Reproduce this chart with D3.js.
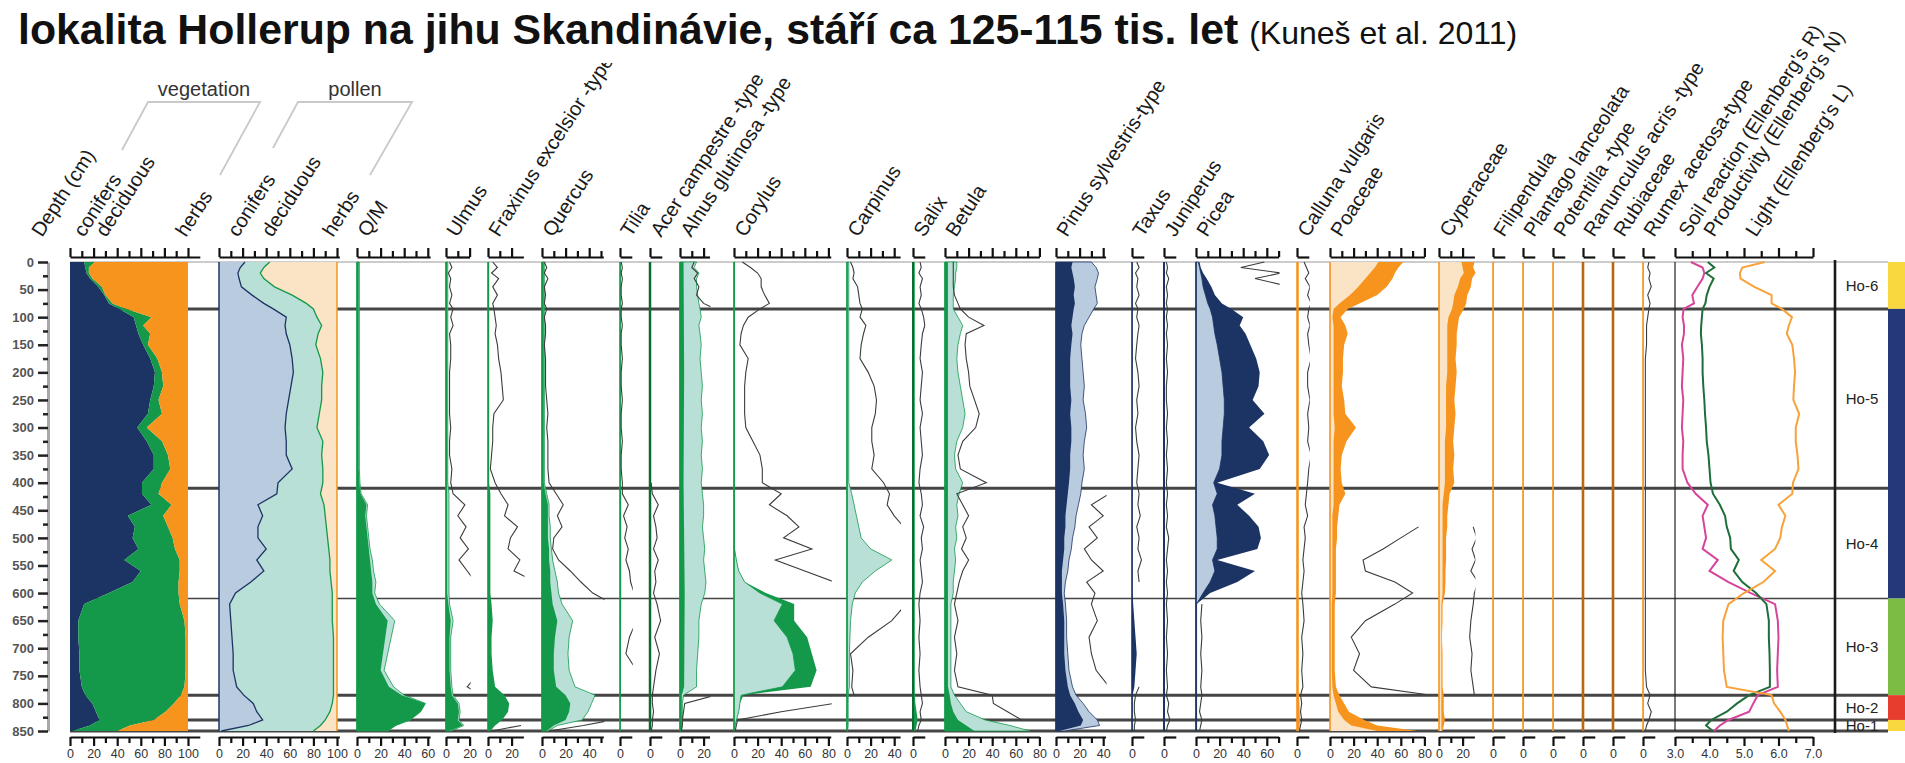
<!DOCTYPE html>
<html><head><meta charset="utf-8">
<script src="https://cdnjs.cloudflare.com/ajax/libs/d3/7.8.5/d3.min.js"></script>
<style>html,body{margin:0;padding:0;background:#fff;}svg{display:block;font-family:"Liberation Sans",Arial,Helvetica,sans-serif;}</style>
</head><body><svg id="chart" width="1905" height="763"></svg>
<script>
// ---------------- DATA ----------------
const depths=[0,10,20,30,45,60,75,85,100,115,130,150,175,200,225,250,275,300,325,350,375,400,420,440,460,480,500,520,540,560,580,600,620,650,680,710,740,770,785,800,815,830,840,850];
const depthTicks=[0,50,100,150,200,250,300,350,400,450,500,550,600,650,700,750,800,850];

// vegetation (%)
const vegConifers=[12,13,14,17,24,29,33,42,54,56,58,62,68,72,71,68,66,57,65,71,71,61,61,69,49,55,53,58,46,60,53,33,12,7,7,8,8,10,13,19,22,25,17,2];
const vegDeciduous=[9,3,2,2,3,1,3,6,15,6,10,4,6,6,8,7,12,8,13,12,14,17,14,17,30,28,34,31,47,33,39,59,81,90,91,90,90,87,81,69,59,46,34,38];
const vegHerbs=[79,84,84,81,73,70,64,52,31,38,32,34,26,22,21,25,22,35,22,17,15,22,25,14,21,17,13,11,7,7,8,8,7,3,2,2,2,3,6,12,19,29,49,60];
// pollen (%)
const polConifers=[22,18,16,17,19,28,38,46,57,56,57,60,62,63,61,59,57,56,57,57,62,50,49,33,37,33,33,40,32,38,27,14,9,10,11,12,12,15,21,29,32,37,25,2];
const polDeciduous=[21,20,19,21,28,34,36,34,26,31,27,22,24,25,26,28,28,27,31,30,26,38,37,56,53,58,59,53,62,56,68,82,87,86,86,85,85,82,76,67,62,53,61,78];
const polHerbs=[57,62,65,62,53,38,26,20,17,13,16,18,14,12,13,13,15,17,12,13,12,12,14,11,10,9,8,7,6,6,5,4,4,4,3,3,3,3,3,4,6,10,14,20];

const qmDark=[1.5,1.5,1.5,1.5,1.5,1.5,1.5,1.5,1.5,1.5,1.5,1.5,1.5,1.5,1.5,1.5,1.5,1.5,1.5,1.5,1.5,2,3,8,7,8,9,10,11,12,13,13,16,26,24,22,20,27,38,58,54,45,33,26];
const qmLight=[2,2,2,2,2,2,2,2,2,2,2,2,2,2,2,2,2,2,2,2,2,2.5,3.5,9,8,9,10,11,13,14,16,15,19,32,29,26,23,31,40,58,54,45,33,26];

const ulmusDark=[1,1,1,1,1,1,1,1,1,1,1,1,1,1,1,1,1,1,1,1,1,1,1,1,1,1,1,1,1,1,1,1,2,4,3,3,3,4,5,10,11,10,14,3];
const ulmusLight=[1.5,1.5,1.5,1.5,1.5,1.5,1.5,1.5,1.5,1.5,1.5,1.5,1.5,1.5,1.5,1.5,1.5,1.5,1.5,1.5,1.5,1.5,2.5,2.5,2.5,2.5,2.5,2.5,2.5,2.5,2.5,2.5,3,6,4,4,4,5,6,11,12,11,15,4];
const ulmusGray=[3,5,2,4,3,5,3,6,4,6,3,4,4,3,3,3,3,4,3,3,5,4,6,16,10,17,12,19,11,18,25,null,null,null,null,null,30,18,30,null,null,null,null,null];

const fraxinusDark=[1,1,1,1,1,1,1,1,1,1,1,1,1,1,1,1,1,1,1,1,1,1,2,2,2,2,2,2,2,2,2,2,3,4,3,3,4,6,14,18,17,12,6,2];
const fraxinusGray=[4,8,3,9,4,8,4,5,6,7,6,8,9,11,12,13,5,4,4,3,2,6,11,17,14,25,19,17,27,22,40,null,null,null,null,null,null,null,null,null,null,null,28,3];

const quercusDark=[1.5,1.5,1.5,1.5,1.5,1.5,1.5,1.5,1.5,1.5,1.5,1.5,1.5,1.5,1.5,1.5,1.5,1.5,1.5,1.5,1.5,1.5,3,5,5,5,5,6,6,7,7,8,9,13,11,10,10,12,20,24,23,20,10,4];
const quercusLight=[2,2,2,2,2,2,2,2,2,2,2,2,2,2,2,2,2,2,2,2,2,2,4,6,6,7,7,8,9,11,13,14,17,26,23,22,23,28,45,42,39,34,13,5];
const quercusGray=[2,4,2,5,2,3,2,4,2,3,3,2,3,3,3,4,5,4,5,5,5,6,12,18,13,17,10,9,14,24,33,43,60,null,null,null,null,null,null,null,null,60,35,6];

const tiliaDepth=[0,400,420,600,850];
const tiliaValue=[0.6,0.6,1,1,0.6];
const tiliaGray=[1,2,1,2,1,1,2,1,1,2,1,1,2,1,1,2,1,1,2,1,1,2,2,7,3,6,4,7,5,8,9,12,null,14,8,5,14,null,null,null,null,null,null,null];

const acerGray=[null,null,null,null,null,null,null,null,null,null,null,null,null,null,null,null,null,null,null,null,null,1,2,7,3,5,6,3,7,4,5,3,6,9,4,8,5,3,2,2,3,2,2,1];

const alnusDepth=[0,200,400,600,770,785,850];
const alnusDark=[3,3.5,3,4,3.5,1.5,1.5];
const alnusLight=[14,12,16,14,14,15,16,17,18,16,17,18,17,18,19,18,19,18,19,18,19,18,19,20,20,19,20,21,20,21,22,21,18,16,16,15,14,14,3,2,2,2,2,1];
const alnusGray=[12,10,15,12,16,14,20,30,null,null,null,null,null,null,null,null,null,null,null,null,null,null,null,null,null,null,null,null,null,null,null,null,null,null,null,null,null,null,30,4,3,2,2,1];

const corylusDark=[0.5,0.5,0.5,0.5,0.5,0.5,0.5,0.5,0.5,0.5,0.5,0.5,0.5,0.5,0.5,0.5,0.5,0.5,0.5,0.5,0.5,0.5,0.5,0.5,0.5,0.5,0.5,0.5,2,4,9,27,51,51,62,66,70,65,8,5,4,2,1,0.5];
const corylusLight=[0.5,0.5,0.5,0.5,0.5,0.5,0.5,0.5,0.5,0.5,0.5,0.5,0.5,0.5,0.5,0.5,0.5,0.5,0.5,0.5,0.5,0.5,0.5,0.5,0.5,0.5,0.5,0.5,2,4,9,22,41,34,45,50,52,41,6,5,4,2,1,0.5];
const corylusGray=[7,14,20,23,23,26,30,22,12,8,6,5,12,10,9,9,9,10,16,22,24,24,40,30,45,55,42,66,35,60,85,null,null,null,null,null,null,null,null,85,40,3,2,1];

const carpinusLight=[1.5,1.5,1.5,1.5,1.5,1.5,1.5,1.5,1.5,1.5,1.5,1.5,1.5,1.5,1.5,1.5,1.5,1.5,1.5,1.5,1.5,1.5,4,6,8,10,12,20,38,24,13,7,4.5,3,2.5,2,2,2,1,1,1,1,1,0.5];
const carpinusGray=[3,5,6,5,9,10,11,13,11,16,14,12,11,18,23,25,24,21,21,23,21,31,36,34,40,48,null,null,null,null,null,null,50,38,18,3,5,4,6,null,null,null,null,null];

const salixDepth=[0,780,800,830,850];
const salixValue=[1.5,1.5,2,4,2];
const salixGray=[6,7,5,8,6,7,5,7,9,10,8,7,6,8,7,6,8,6,7,8,6,5,7,8,6,9,7,8,6,7,8,6,5,6,5,6,5,6,7,8,6,7,5,4];

const betulaDark=[2.5,2.5,2.5,2.5,2.5,2.5,2.5,2.5,2.5,2.5,2.5,2.5,2.5,2.5,2.5,2.5,2.5,2.5,2.5,2.5,2.5,2.5,2.5,2.5,2.5,2.5,2.5,2.5,2.5,2.5,2.5,2.5,2.5,2.5,2.5,2.5,2.5,2.5,4,5,7,11,18,25];
const betulaLight=[10,10,9,9,8,7,7,7,11,15,13,11,10,11,13,15,17,15,10,8,9,15,12,10,11,9,10,8,9,8,7,7,5,5,5,5,5,5,8,13,18,34,55,72];
const betulaGray=[7,7,7,7,7,8,11,13,20,33,18,17,18,20,21,25,29,26,15,11,13,35,10,15,20,15,18,14,20,15,12,10,8,11,8,10,8,11,40,41,53,65,null,null];

const pinusDark=[14,13,14,15,16,15,16,15,14,13,14,13,12,12,12,13,12,13,13,12,12,11,10,9,8,8,7,7,6,5,5,5,6,7,7,7,8,10,12,16,19,23,21,3];
const pinusLight=[30,34,36,35,33,34,35,32,28,24,22,21,22,23,24,23,25,26,24,23,24,22,21,19,17,16,14,13,11,10,8,7,8,9,9,10,11,14,17,23,28,35,37,7];
const pinusGray=[null,null,null,null,null,null,null,null,null,null,null,null,null,null,null,null,null,null,null,null,null,null,45,30,40,28,35,24,30,40,26,33,30,35,28,30,34,45,null,null,null,null,null,null];

const taxusDepth=[0,600,620,650,680,710,740,770,785,850];
const taxusValue=[0.5,0.5,1,2,3,4,3,2,0.5,0.5];
const taxusGray=[4,6,3,5,4,6,3,5,4,6,5,4,3,5,6,4,5,3,4,6,5,4,6,5,7,4,6,5,8,5,6,null,null,null,null,null,null,6,3,2,2,3,2,2];

const juniperusDepth=[0,850];
const juniperusValue=[0.6,0.6];
const juniperusGray=[2,3,2,4,2,3,2,3,2,3,2,3,2,3,2,2,3,2,3,2,3,2,3,2,3,2,4,3,2,3,2,3,2,3,2,3,2,3,2,4,3,5,3,2];

const piceaDark=[3,4,6,9,13,16,22,30,40,37,42,46,51,54,53,48,58,45,57,62,54,18,50,35,45,53,55,52,18,50,35,12,0.5,0.5,0.5,0.5,0.5,0.5,0.5,0.5,0.5,0.5,0.5,0.5];
const piceaLight=[2,3,4,5,6,8,10,12,14,15,16,18,20,22,23,24,24,23,22,22,20,15,18,14,16,17,18,18,14,16,12,6,0.5,0.5,0.5,0.5,0.5,0.5,0.5,0.5,0.5,0.5,0.5,0.5];
const piceaGray=[58,38,72,50,80,null,null,null,null,null,null,null,null,null,null,null,null,null,null,null,null,null,null,null,null,null,null,null,null,null,null,null,5,4,5,4,5,4,5,4,3,5,4,3];

const callunaDepth=[0,780,800,830,850];
const callunaValue=[1.5,1.5,2,2.5,2];
const callunaGray=[6,8,10,7,11,9,12,10,9,11,9,10,12,9,9,11,9,10,9,12,10,9,8,7,9,6,7,6,5,6,5,4,5,6,4,5,4,5,3,4,3,4,3,2];

const poaceaeDark=[62,58,55,53,48,40,25,15,9,13,15,12,11,11,10,12,13,22,14,10,9,10,13,8,7,6,6,5,5,5,5,5,4,4,4,4,4,5,8,12,16,29,40,74];
const poaceaeLight=[41,38,34,30,24,17,8,3,2,3,3,3,3,3,3,3,3,4,3,3,3,3,3,3,2,2,2,2,2,2,2,2,1.5,1.5,1.5,1.5,1.5,2,3,5,7,12,18,40];
const poaceaeGray=[null,null,null,null,null,null,null,null,null,null,null,null,null,null,null,null,null,null,null,null,null,null,null,null,null,75,60,45,28,30,55,70,55,30,18,25,20,35,85,null,null,null,null,null];

const cyperaceaeDark=[30,29,31,28,27,24,23,21,17,16,15,15,14,15,14,13,14,13,12,13,12,13,9,8,7,7,6,6,6,5.5,5.5,5,3,3,2.5,3,3,3,4,4,4,5,4,3];
const cyperaceaeLight=[19,20,21,18,16,13,12,11,8,7,7,7,7,7,6,6,6,6,5,5,5,5,4,3,3,3,3,3,3,3,3,3,2,2,2,2,2,2,2,2,2,2,2,2];
const cyperaceaeGray=[null,null,null,null,null,null,null,null,null,null,null,null,null,null,null,null,null,null,null,null,null,null,null,null,null,29,32,28,31,27,33,30,29,27,26,28,27,29,30,null,null,null,null,null];

const herbTraceDepth=[0,850];
const herbTraceValue=[0.5,0.5];
const rumexGray=[5,4,6,5,7,4,6,5,4,3,3,3,2,2,2,2,2,2,2,2,2,2,2,2,2,2,2,2,2,2,2,2,2,2,2,2,2,3,6,4,7,5,3,2];

// Ellenberg indicator values
const ellR=[3.46,3.8,3.85,3.8,3.65,3.5,3.55,3.25,3.22,3.26,3.26,3.2,3.24,3.22,3.2,3.24,3.22,3.2,3.24,3.22,3.22,3.36,3.6,3.95,3.8,3.85,3.9,3.8,4.24,4.0,4.55,5.2,5.9,5.98,6.0,5.98,5.96,5.98,5.4,5.27,5.15,4.55,4.3,4.13];
const ellN=[3.95,4.14,3.9,4.12,4.0,3.92,3.88,3.8,3.78,3.76,3.75,3.78,3.8,3.8,3.82,3.85,3.87,3.9,3.92,3.97,4.0,4.03,4.1,4.3,4.45,4.5,4.6,4.62,4.85,4.7,4.95,5.35,5.65,5.72,5.72,5.74,5.75,5.75,5.15,4.8,4.5,4.05,3.9,4.1];
const ellL=[5.6,4.95,4.88,4.9,5.3,5.8,5.8,6.1,6.39,6.3,6.24,6.4,6.45,6.48,6.45,6.43,6.6,6.5,6.5,6.55,6.58,6.42,6.4,6.0,6.2,6.1,6.05,5.9,5.5,5.9,5.56,5.0,4.55,4.4,4.38,4.4,4.42,4.5,5.8,5.87,6.05,6.2,6.25,6.3];
const ellTicks=[3,3.5,4,4.5,5,5.5,6,6.5,7];
const ellLabels=[3,4,5,6,7];

// zones
const zoneNames=["Ho-6","Ho-5","Ho-4","Ho-3","Ho-2","Ho-1"];
const zoneTop=[0,85,410,610,785,830];
const zoneBottom=[85,410,610,785,830,850];
const zoneBarTop=[0,85,610,785,830];
const zoneBarBottom=[85,610,785,830,850];
const thickBoundaries=[85,410,785,830,850];
const thinBoundaries=[610];

// ---------------- DRAWING ----------------
const C={navy:"#1c3463",lblue:"#b9cbdf",green:"#14994a",teal:"#b8e0d6",dgreen:"#0d6a33",orange:"#f7941d",peach:"#fbe3c6",brown:"#b9680f",gray:"#3c3c3c",
  zone:["#f8d83e","#25397a","#7bbd42","#e63d2e","#f8d83e"],ellR:"#d6449c",ellN:"#1e6e3a",ellL:"#f7a23a"};
const svg=d3.select("#chart");
const y=d3.scaleLinear().domain([0,850]).range([262,731]);
const U=1.18, TOPAX=257, BOTAX=737, LABY=238, LFS=20;
const ZX0=70;
const zoneLineX=1835, barX=1888;

// zone lines (under fills)
svg.append("line").attr("x1",ZX0).attr("x2",barX).attr("y1",y(0)).attr("y2",y(0)).attr("stroke","#9a9a9a").attr("stroke-width",1.2);
thickBoundaries.forEach(d=>svg.append("line").attr("x1",ZX0).attr("x2",barX).attr("y1",y(d)).attr("y2",y(d)).attr("stroke","#454545").attr("stroke-width",3));
thinBoundaries.forEach(d=>svg.append("line").attr("x1",ZX0).attr("x2",barX).attr("y1",y(d)).attr("y2",y(d)).attr("stroke","#454545").attr("stroke-width",1.5));

function styleAxis(gg){
  gg.select(".domain").attr("stroke","#111").attr("stroke-width",2.2);
  gg.selectAll(".tick line").attr("stroke","#111").attr("stroke-width",2.2);
  gg.selectAll(".tick text").attr("font-size",12.5).attr("fill","#333");
}
function axes(x0,ext,tmax,labs,unit){
  const sc=d3.scaleLinear().domain([0,ext]).range([x0,x0+ext*unit]);
  const all=d3.range(0,tmax+1e-6,10);
  const minor=all.filter(v=>!labs.includes(v));
  [[TOPAX,d3.axisTop],[BOTAX,d3.axisBottom]].forEach(([yy,ax],k)=>{
    const g=svg.append("g").attr("transform",`translate(0,${yy})`);
    g.call(ax(sc).tickValues(labs).tickSize(9).tickSizeOuter(0).tickPadding(3).tickFormat(k===0?"":d3.format("d")));
    const g2=svg.append("g").attr("transform",`translate(0,${yy})`);
    g2.call(ax(sc).tickValues(minor).tickSize(6).tickSizeOuter(0).tickFormat(""));
    g2.select(".domain").remove();
    styleAxis(g);styleAxis(g2);
  });
  return sc;
}
function hlabel(txt,x){
  svg.append("text").attr("transform",`translate(${x},${LABY}) rotate(-57)`).attr("font-size",LFS).attr("fill","#1a1a1a").text(txt);
}

// depth axis
{
  const g=svg.append("g").attr("transform","translate(48,0)");
  g.call(d3.axisLeft(y).tickValues(depthTicks).tickSize(10).tickSizeOuter(0).tickPadding(4));
  g.select(".domain").attr("stroke","#a8a8a8").attr("stroke-width",3);
  g.selectAll(".tick line").attr("stroke","#222").attr("stroke-width",2.5);
  g.selectAll(".tick text").attr("font-size",13).attr("font-weight","bold").attr("fill","#555");
  const g2=svg.append("g").attr("transform","translate(48,0)");
  g2.call(d3.axisLeft(y).tickValues(depthTicks.slice(0,-1).map(d=>d+25)).tickSize(5).tickFormat(""));
  g2.select(".domain").remove();
  g2.selectAll(".tick line").attr("stroke","#222").attr("stroke-width",2.5);
  hlabel("Depth (cm)",42);
}

// vegetation & pollen stacked panels
function stacked(x0,cons,decs,herbs,fills,lines,ext){
  const sc=axes(x0,ext,100,[0,20,40,60,80,100],U);
  const rows=depths.map((d,i)=>({d,c:cons[i],de:decs[i],h:herbs[i]}));
  const st=d3.stack().keys(["c","de","h"])(rows);
  const area=d3.area().y(p=>y(p.data.d)).x0(p=>sc(p[0])).x1(p=>sc(p[1]));
  st.forEach((s,i)=>svg.append("path").attr("d",area(s)).attr("fill",fills[i]));
  if(lines){
    const ln=d3.line().y(p=>y(p.data.d)).x(p=>sc(p[1]));
    [0,1].forEach(i=>svg.append("path").attr("d",ln(st[i])).attr("fill","none").attr("stroke",lines[i]).attr("stroke-width",1.3));
    svg.append("line").attr("x1",sc(0)).attr("x2",sc(0)).attr("y1",y(0)).attr("y2",y(850)).attr("stroke",C.navy).attr("stroke-width",1.5);
    svg.append("line").attr("x1",sc(100)).attr("x2",sc(100)).attr("y1",y(0)).attr("y2",y(850)).attr("stroke",C.orange).attr("stroke-width",1.5);
  }
}
stacked(70,vegConifers,vegDeciduous,vegHerbs,[C.navy,C.green,C.orange],null,110);
stacked(219,polConifers,polDeciduous,polHerbs,[C.lblue,C.teal,C.peach],[C.navy,C.green],102);
[["conifers",84],["deciduous",106],["herbs",186],["conifers",238],["deciduous",272],["herbs",333]].forEach(([t,x])=>hlabel(t,x));
// brackets
svg.append("path").attr("d","M122,150L148,102L260,102L220,175").attr("fill","none").attr("stroke","#c9c9c9").attr("stroke-width",1.8);
svg.append("path").attr("d","M273,148L298,102L412,102L370,175").attr("fill","none").attr("stroke","#c9c9c9").attr("stroke-width",1.8);
svg.append("text").attr("x",204).attr("y",96).attr("text-anchor","middle").attr("font-size",20).attr("fill","#333").text("vegetation");
svg.append("text").attr("x",355).attr("y",96).attr("text-anchor","middle").attr("font-size",20).attr("fill","#333").text("pollen");

// taxa panels
const taxa=[
 {label:"Q/M",x0:357,ext:62,tmax:60,labs:[0,20,40,60],zero:C.green,areas:[[depths,qmLight,C.teal,C.green],[depths,qmDark,C.green]]},
 {label:"Ulmus",x0:446,ext:20,tmax:20,labs:[0,20],zero:C.green,areas:[[depths,ulmusLight,C.teal,C.green],[depths,ulmusDark,C.green]],gray:ulmusGray},
 {label:"Fraxinus excelsior -type",x0:488,ext:30,tmax:20,labs:[0,20],zero:C.green,areas:[[depths,fraxinusDark,C.green]],gray:fraxinusGray},
 {label:"Quercus",x0:542,ext:52,tmax:50,labs:[0,20,40],zero:C.green,areas:[[depths,quercusLight,C.teal,C.green],[depths,quercusDark,C.green]],gray:quercusGray},
 {label:"Tilia",x0:620,ext:10,tmax:0,labs:[0],zero:C.green,areas:[[tiliaDepth,tiliaValue,C.green]],gray:tiliaGray},
 {label:"Acer campestre -type",x0:650,ext:10,tmax:0,labs:[0],zero:C.dgreen,zw:2.5,areas:[],gray:acerGray},
 {label:"Alnus glutinosa -type",x0:680,ext:25,tmax:20,labs:[0,20],zero:C.green,areas:[[depths,alnusLight,C.teal,C.green],[alnusDepth,alnusDark,C.green]],gray:alnusGray},
 {label:"Corylus",x0:734,ext:82,tmax:80,labs:[0,20,40,60,80],zero:C.green,areas:[[depths,corylusDark,C.green],[depths,corylusLight,C.teal,C.green]],gray:corylusGray},
 {label:"Carpinus",x0:847,ext:45,tmax:40,labs:[0,20,40],zero:C.green,areas:[[depths,carpinusLight,C.teal,C.green]],gray:carpinusGray},
 {label:"Salix",x0:913,ext:10,tmax:0,labs:[0],zero:C.dgreen,zw:2,areas:[[salixDepth,salixValue,C.green]],gray:salixGray},
 {label:"Betula",x0:945,ext:80,tmax:80,labs:[0,20,40,60,80],zero:C.green,areas:[[depths,betulaLight,C.teal,C.green],[depths,betulaDark,C.green]],gray:betulaGray},
 {label:"Pinus sylvestris-type",x0:1056,ext:42,tmax:40,labs:[0,20,40],zero:C.navy,areas:[[depths,pinusLight,C.lblue,C.navy],[depths,pinusDark,C.navy]],gray:pinusGray},
 {label:"Taxus",x0:1132,ext:10,tmax:0,labs:[0],zero:C.navy,areas:[[taxusDepth,taxusValue,C.navy]],gray:taxusGray},
 {label:"Juniperus",x0:1164,ext:10,tmax:0,labs:[0],zero:C.navy,zw:2,areas:[[juniperusDepth,juniperusValue,C.navy]],gray:juniperusGray},
 {label:"Picea",x0:1196,ext:70,tmax:70,labs:[0,20,40,60],zero:C.navy,areas:[[depths,piceaDark,C.navy],[depths,piceaLight,C.lblue,C.navy]],gray:piceaGray},
 {label:"Calluna vulgaris",x0:1297,ext:10,tmax:0,labs:[0],zero:C.orange,areas:[[callunaDepth,callunaValue,C.orange]],gray:callunaGray},
 {label:"Poaceae",x0:1330,ext:80,tmax:80,labs:[0,20,40,60,80],zero:C.orange,areas:[[depths,poaceaeDark,C.orange],[depths,poaceaeLight,C.peach]],gray:poaceaeGray},
 {label:"Cyperaceae",x0:1439,ext:30,tmax:20,labs:[0,20],zero:C.orange,areas:[[depths,cyperaceaeDark,C.orange],[depths,cyperaceaeLight,C.peach]],gray:cyperaceaeGray},
 {label:"Filipendula",x0:1493,ext:10,tmax:0,labs:[0],zero:C.orange,areas:[[herbTraceDepth,herbTraceValue,C.orange]]},
 {label:"Plantago lanceolata",x0:1523,ext:10,tmax:0,labs:[0],zero:C.orange,areas:[[herbTraceDepth,herbTraceValue,C.orange]]},
 {label:"Potentilla -type",x0:1553,ext:10,tmax:0,labs:[0],zero:C.orange,areas:[[herbTraceDepth,herbTraceValue,C.orange]]},
 {label:"Ranunculus acris -type",x0:1583,ext:10,tmax:0,labs:[0],zero:C.brown,zw:2.6,areas:[]},
 {label:"Rubiaceae",x0:1613,ext:10,tmax:0,labs:[0],zero:C.brown,zw:2.6,areas:[]},
 {label:"Rumex acetosa-type",x0:1643,ext:10,tmax:0,labs:[0],zero:C.orange,areas:[[herbTraceDepth,herbTraceValue,C.orange]],gray:rumexGray}
];
const defs=svg.append("defs");
taxa.forEach((t,i)=>{
  const sc=axes(t.x0,t.ext,t.tmax,t.labs,U);
  t.areas.forEach(([dd,vv,fill,stroke])=>{
    const pts=dd.map((d,j)=>({d,v:vv[j]}));
    const ar=d3.area().y(p=>y(p.d)).x0(sc(0)).x1(p=>sc(p.v));
    svg.append("path").attr("d",ar(pts)).attr("fill",fill).attr("stroke",stroke||"none").attr("stroke-width",stroke?0.8:0);
  });
  svg.append("line").attr("x1",sc(0)).attr("x2",sc(0)).attr("y1",y(0)).attr("y2",y(850)).attr("stroke",t.zero).attr("stroke-width",t.zw||1.6);
  if(t.gray){
    defs.append("clipPath").attr("id","cp"+i).append("rect").attr("x",sc(0)).attr("y",y(0)-1).attr("width",t.ext*U+1).attr("height",y(850)-y(0)+2);
    const pts=depths.map((d,j)=>({d,v:t.gray[j]}));
    const ln=d3.line().defined(p=>p.v!=null).y(p=>y(p.d)).x(p=>sc(p.v));
    svg.append("path").attr("d",ln(pts)).attr("clip-path",`url(#cp${i})`).attr("fill","none").attr("stroke",C.gray).attr("stroke-width",1.1);
  }
  hlabel(t.label,t.x0+11);
});

// Ellenberg panel
{
  const ex=d3.scaleLinear().domain([3,7]).range([1675,1813]);
  [[TOPAX,d3.axisTop],[BOTAX,d3.axisBottom]].forEach(([yy,ax],k)=>{
    const g=svg.append("g").attr("transform",`translate(0,${yy})`);
    g.call(ax(ex).tickValues(ellLabels).tickSize(9).tickSizeOuter(0).tickPadding(3).tickFormat(k===0?"":d3.format(".1f")));
    const g2=svg.append("g").attr("transform",`translate(0,${yy})`);
    g2.call(ax(ex).tickValues(ellTicks.filter(v=>!ellLabels.includes(v))).tickSize(6).tickSizeOuter(0).tickFormat(""));
    g2.select(".domain").remove();
    styleAxis(g);styleAxis(g2);
  });
  svg.append("line").attr("x1",ex(3)).attr("x2",ex(3)).attr("y1",y(0)).attr("y2",y(850)).attr("stroke","#222").attr("stroke-width",1.2);
  [[ellR,C.ellR],[ellN,C.ellN],[ellL,C.ellL]].forEach(([vals,col])=>{
    const ln=d3.line().y((v,j)=>y(depths[j])).x(v=>ex(v));
    svg.append("path").attr("d",ln(vals)).attr("fill","none").attr("stroke",col).attr("stroke-width",2);
  });
  hlabel("Soil reaction (Ellenberg's R)",ex(3)+14);
  hlabel("Productivity (Ellenberg's N)",ex(3)+39);
  hlabel("Light (Ellenberg's L)",ex(3)+81);
}

// zone column
svg.append("line").attr("x1",zoneLineX).attr("x2",zoneLineX).attr("y1",y(0)-2).attr("y2",y(850)+2).attr("stroke","#1a1a1a").attr("stroke-width",2.6);
zoneBarTop.forEach((t,i)=>svg.append("rect").attr("x",barX).attr("width",1905-barX).attr("y",y(t)).attr("height",y(zoneBarBottom[i])-y(t)).attr("fill",C.zone[i]));
zoneNames.forEach((n,i)=>svg.append("text").attr("x",1862).attr("y",y((zoneTop[i]+zoneBottom[i])/2)).attr("dy","0.36em").attr("text-anchor","middle").attr("font-size",15).attr("fill","#222").text(n));

// title (white backdrop clips the tallest labels like in the original)
svg.append("rect").attr("x",0).attr("y",0).attr("width",1540).attr("height",63).attr("fill","#fff");
const tt=svg.append("text").attr("x",18).attr("y",44).attr("fill","#111");
tt.append("tspan").attr("font-size",42.8).attr("font-weight","bold").text("lokalita Hollerup na jihu Skandinávie, stáří ca 125-115 tis. let");
tt.append("tspan").attr("font-size",32).attr("dx",11).text("(Kuneš et al. 2011)");
</script></body></html>
